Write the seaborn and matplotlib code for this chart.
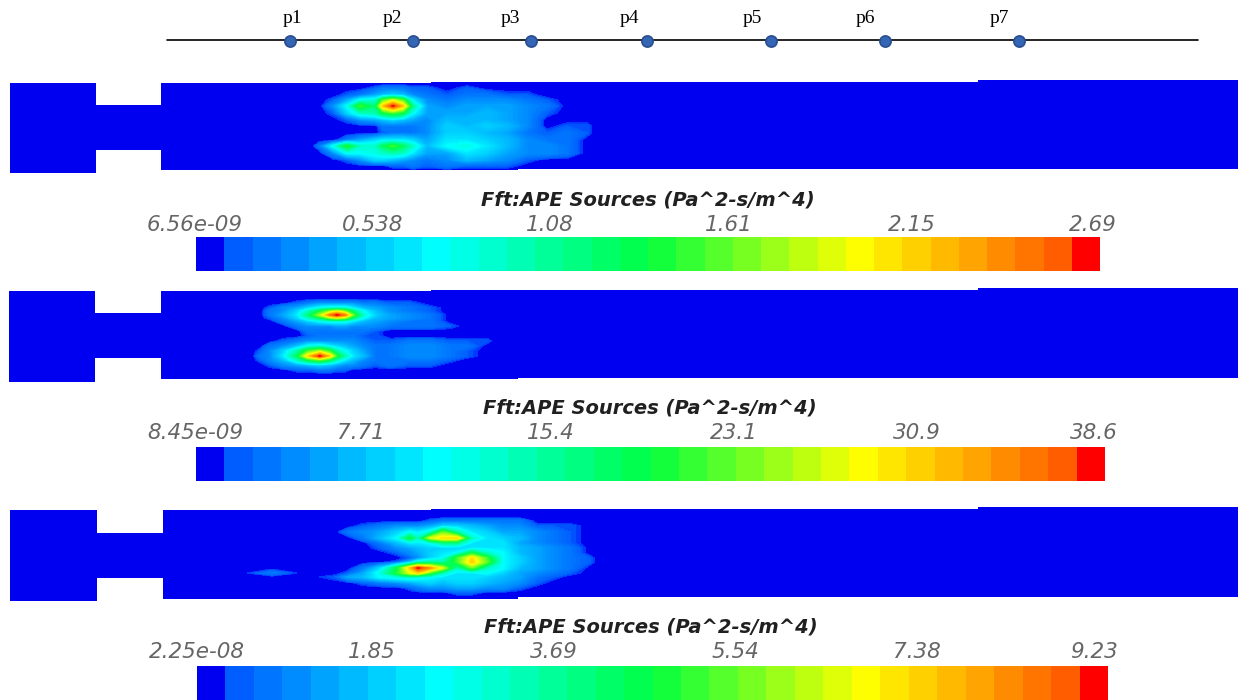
import numpy as np
import matplotlib
matplotlib.use("Agg")
import matplotlib.pyplot as plt
from matplotlib.colors import ListedColormap, LinearSegmentedColormap
import seaborn as sns

sns.set_style("white")

# probe line on top
probe_names = ["p1", "p2", "p3", "p4", "p5", "p6", "p7"]
probe_x = [290, 413, 531, 647, 771, 885, 1019]
probe_label_x = [292, 392, 510, 629, 752, 865, 999]

# colourbar labels, one list per panel
bar_title = "Fft:APE Sources (Pa^2-s/m^4)"
labels1 = ["6.56e-09", "0.538", "1.08", "1.61", "2.15", "2.69"]
labels2 = ["8.45e-09", "7.71", "15.4", "23.1", "30.9", "38.6"]
labels3 = ["2.25e-08", "1.85", "3.69", "5.54", "7.38", "9.23"]

# plume fields, values are colourbar band numbers (0 blue ... 31 red)
# panel 1
x1 = [320, 333, 347, 360, 375, 383, 393, 403, 413, 427, 447, 467, 487, 507, 527, 547, 567, 587]
y1 = [88, 95, 100, 106, 113, 120, 126, 133, 140, 146, 153, 160, 166]
field1 = [
    [0, 0, 0, 0, 1, 2, 2, 2, 1, 1, 0, 1, 0, 0, 0, 0, 0, 0],
    [0, 0, 1, 2, 4, 5, 6, 5, 3, 2, 1, 2, 2, 1, 1, 0, 0, 0],
    [0, 1, 4, 8, 9, 17, 21, 17, 7, 3, 2, 3, 3, 3, 2, 1, 0, 0],
    [0, 3, 8, 17, 13, 25, 31, 25, 12, 4, 3, 4, 4, 4, 3, 2, 0, 0],
    [0, 1, 6, 10, 11, 15, 17, 15, 8, 4, 4, 4, 5, 4, 3, 1, 0, 0],
    [0, 0, 1, 3, 4, 5, 6, 5, 4, 3, 5, 5, 5, 4, 3, 0, 0, 0],
    [0, 0, 0, 0, 0, 2, 2, 2, 2, 3, 6, 5, 6, 5, 3, 0, 1, 1],
    [0, 0, 0, 0, 0, 1, 2, 2, 2, 3, 6, 6, 5, 4, 2, 1, 2, 1],
    [0, 0, 2, 4, 6, 7, 7, 7, 6, 4, 7, 7, 6, 5, 3, 2, 2, 0],
    [2, 8, 16, 10, 10, 14, 17, 14, 10, 5, 8, 9, 7, 5, 3, 3, 2, 0],
    [0, 3, 8, 8, 9, 10, 11, 10, 7, 4, 4, 7, 6, 4, 3, 3, 2, 0],
    [0, 0, 1, 3, 6, 6, 5, 4, 3, 2, 3, 5, 4, 3, 1, 0, 0, 0],
    [0, 0, 0, 0, 0, 0, 1, 1, 2, 1, 2, 1, 1, 1, 0, 0, 0, 0],
]

# panel 2
x2 = [260, 270, 283, 297, 308, 320, 330, 337, 345, 353, 363, 375, 390, 410, 430, 450, 467, 487]
y2 = [303, 308, 311, 315, 318, 321, 326, 331, 336, 341, 346, 351, 356, 360, 365, 370]
field2 = [
    [0, 0, 0, 1, 2, 3, 3, 3, 3, 3, 2, 2, 1, 1, 0, 0, 0, 0],
    [0, 1, 3, 4, 6, 8, 9, 9, 9, 7, 5, 4, 3, 2, 1, 0, 0, 0],
    [0, 2, 3, 6, 10, 15, 19, 21, 18, 13, 8, 5, 3, 2, 1, 0, 0, 0],
    [0, 2, 4, 7, 13, 20, 28, 31, 28, 18, 10, 6, 4, 3, 2, 0, 0, 0],
    [0, 1, 3, 6, 10, 14, 19, 21, 19, 13, 8, 5, 4, 3, 2, 0, 0, 0],
    [0, 0, 2, 4, 6, 8, 9, 9, 9, 7, 5, 4, 3, 2, 2, 0, 0, 0],
    [0, 0, 0, 2, 3, 3, 3, 4, 4, 3, 3, 3, 2, 2, 2, 1, 0, 0],
    [0, 0, 0, 0, 2, 2, 2, 2, 2, 2, 2, 1, 0, 0, 0, 0, 0, 0],
    [0, 0, 0, 0, 1, 2, 2, 2, 2, 2, 1, 1, 0, 0, 0, 0, 0, 0],
    [0, 0, 1, 2, 3, 3, 3, 3, 3, 3, 2, 1, 1, 2, 2, 1, 1, 1],
    [0, 2, 3, 5, 8, 9, 7, 6, 5, 4, 3, 2, 2, 3, 3, 2, 2, 0],
    [1, 3, 6, 11, 17, 20, 16, 11, 8, 6, 4, 2, 2, 3, 3, 2, 1, 0],
    [2, 3, 7, 14, 24, 31, 24, 16, 11, 7, 5, 2, 2, 3, 3, 2, 1, 0],
    [1, 3, 5, 10, 15, 18, 14, 10, 7, 5, 3, 2, 2, 2, 2, 1, 0, 0],
    [0, 1, 3, 4, 5, 6, 5, 4, 3, 3, 2, 1, 2, 1, 1, 0, 0, 0],
    [0, 0, 0, 1, 1, 2, 2, 1, 1, 0, 0, 0, 0, 0, 0, 0, 0, 0],
]

# panel 3
x3 = [240, 272, 305, 335, 348, 363, 380, 397, 410, 418, 430, 443, 457, 472, 487, 503, 520, 537, 553, 570, 590]
y3 = [521, 526, 532, 538, 543, 548, 553, 558, 562, 568, 573, 577, 583, 588, 593]
field3 = [
    [0, 0, 0, 0, 0, 0, 0, 0, 0, 0, 1, 2, 2, 2, 2, 2, 2, 0, 0, 0, 0],
    [0, 0, 0, 0, 0, 1, 2, 3, 3, 3, 4, 6, 6, 5, 4, 3, 3, 1, 1, 1, 0],
    [0, 0, 0, 0, 2, 3, 4, 6, 8, 7, 9, 18, 11, 7, 6, 4, 4, 3, 2, 1, 0],
    [0, 0, 0, 0, 0, 2, 5, 8, 15, 10, 21, 24, 24, 10, 7, 6, 5, 3, 2, 1, 0],
    [0, 0, 0, 0, 0, 0, 2, 5, 7, 7, 8, 12, 12, 7, 7, 7, 4, 3, 2, 1, 0],
    [0, 0, 0, 0, 0, 0, 1, 3, 4, 5, 6, 6, 6, 7, 7, 7, 5, 4, 3, 2, 0],
    [0, 0, 0, 0, 0, 0, 0, 1, 3, 4, 6, 7, 8, 15, 10, 8, 5, 4, 3, 2, 0],
    [0, 0, 0, 0, 0, 0, 0, 0, 1, 3, 6, 8, 17, 24, 17, 8, 6, 4, 3, 2, 1],
    [0, 0, 0, 0, 0, 0, 0, 1, 5, 9, 11, 11, 17, 25, 18, 8, 6, 4, 3, 2, 1],
    [0, 0, 0, 0, 0, 2, 6, 15, 25, 31, 27, 21, 10, 18, 10, 8, 5, 4, 3, 2, 0],
    [0, 2, 0, 0, 1, 4, 9, 16, 22, 24, 17, 10, 7, 7, 8, 6, 4, 3, 2, 1, 0],
    [0, 0, 0, 1, 4, 5, 8, 9, 10, 9, 8, 7, 7, 7, 6, 5, 4, 2, 1, 0, 0],
    [0, 0, 0, 0, 0, 1, 2, 3, 4, 5, 6, 5, 6, 6, 5, 4, 3, 1, 0, 0, 0],
    [0, 0, 0, 0, 0, 0, 0, 0, 1, 2, 3, 3, 4, 4, 3, 3, 1, 0, 0, 0, 0],
    [0, 0, 0, 0, 0, 0, 0, 0, 0, 0, 0, 0, 1, 1, 0, 0, 0, 0, 0, 0, 0],
]

W, H = 1238, 700
BLUE = "#0000f0"
N_BANDS = 32
rainbow = LinearSegmentedColormap.from_list("fluent", [
    (0, "#0000ff"), (1 / 31, "#0060ff"), (0.26, "#00ffff"), (0.5, "#00ff40"),
    (0.74, "#ffff00"), (30 / 31, "#ff6000"), (1, "#ff0000")])
bands = [rainbow(i / (N_BANDS - 1)) for i in range(N_BANDS)]
bands[0] = BLUE
band_cmap = ListedColormap(bands)


def duct(ax, left, neck, main, top, bottom, neck_top, neck_bot):
    # outline has small steps where the picture was stitched
    xs = [left, neck, neck, main, main, 431, 431, 978, 978, W, W, 518, 518, main, main, neck, neck, left]
    ys = [top, top, neck_top, neck_top, top, top, top - 1.5, top - 1.5, top - 3, top - 3,
          bottom - 4, bottom - 4, bottom - 2.5, bottom - 2.5, neck_bot, neck_bot, bottom, bottom]
    ax.fill(xs, ys, color=BLUE, lw=0)


def plume(ax, xs, ys, field):
    # pad with zeros so the outer contour closes
    z = np.pad(np.array(field, dtype=float), 1)
    px = [xs[0] - 8] + xs + [xs[-1] + 8]
    py = [ys[0] - 4] + ys + [ys[-1] + 4]
    levels = np.arange(0.5, N_BANDS, 0.25)
    cs = ax.contourf(px, py, z, levels=levels, cmap=rainbow, vmin=0, vmax=N_BANDS - 1)
    cs.set_edgecolor("face")
    cs.set_linewidth(0.3)


def colorbar(fig, x0, x1_, y0, y1_):
    cax = fig.add_axes([x0 / W, 1 - y1_ / H, (x1_ - x0) / W, (y1_ - y0) / H])
    sns.heatmap(np.arange(N_BANDS)[None, :], cmap=band_cmap, cbar=False, vmin=0, vmax=N_BANDS - 1,
                xticklabels=False, yticklabels=False, ax=cax)


def main():
    fig = plt.figure(figsize=(W / 100, H / 100), dpi=100, facecolor="white")
    ax = fig.add_axes([0, 0, 1, 1])

    sns.lineplot(x=[167, 1198], y=[40, 40], color="black", lw=1.2, ax=ax, errorbar=None)
    sns.scatterplot(x=probe_x, y=[40.5] * len(probe_x), s=65, color="#3565b5", edgecolor="#2a4f8f",
                    linewidth=1.2, zorder=3, ax=ax)
    for name, lx in zip(probe_names, probe_label_x):
        ax.text(lx, 23, name, ha="center", va="baseline", fontsize=14, family="Liberation Serif", color="black")

    # panel 1
    duct(ax, 10, 96, 161, 83, 172.5, 104.5, 149.5)
    plume(ax, x1, y1, field1)
    # panel 2
    duct(ax, 9, 95, 161, 291, 381.5, 313, 358)
    plume(ax, x2, y2, field2)
    # panel 3
    duct(ax, 10, 97, 163, 510, 601, 533, 578)
    plume(ax, x3, y3, field3)

    bar_boxes = [(196, 1100, 237, 271), (196, 1105, 447, 481), (197, 1108, 666, 700)]
    label_x = [[195, 373, 550, 729, 912, 1093],
               [195, 361, 551, 734, 917, 1094],
               [197, 372, 554, 735, 917, 1094]]
    label_y = [225, 433, 652]
    title_y = [200, 408, 627]
    title_x = [648, 650, 651]
    for box, labs, lxs, ly, ty, tx in zip(bar_boxes, [labels1, labels2, labels3], label_x, label_y, title_y, title_x):
        colorbar(fig, *box)
        for lab, lx in zip(labs, lxs):
            ax.text(lx, ly, lab, ha="center", va="center", fontsize=15.5, style="italic",
                    color="#666666", family="DejaVu Sans")
        ax.text(tx, ty, bar_title, ha="center", va="center", fontsize=14, style="italic",
                color="#202020", family="DejaVu Sans", fontweight="bold")

    ax.set_xlim(0, W)
    ax.set_ylim(H, 0)
    ax.axis("off")
    fig.savefig("out.png", dpi=100)


if __name__ == "__main__":
    main()
